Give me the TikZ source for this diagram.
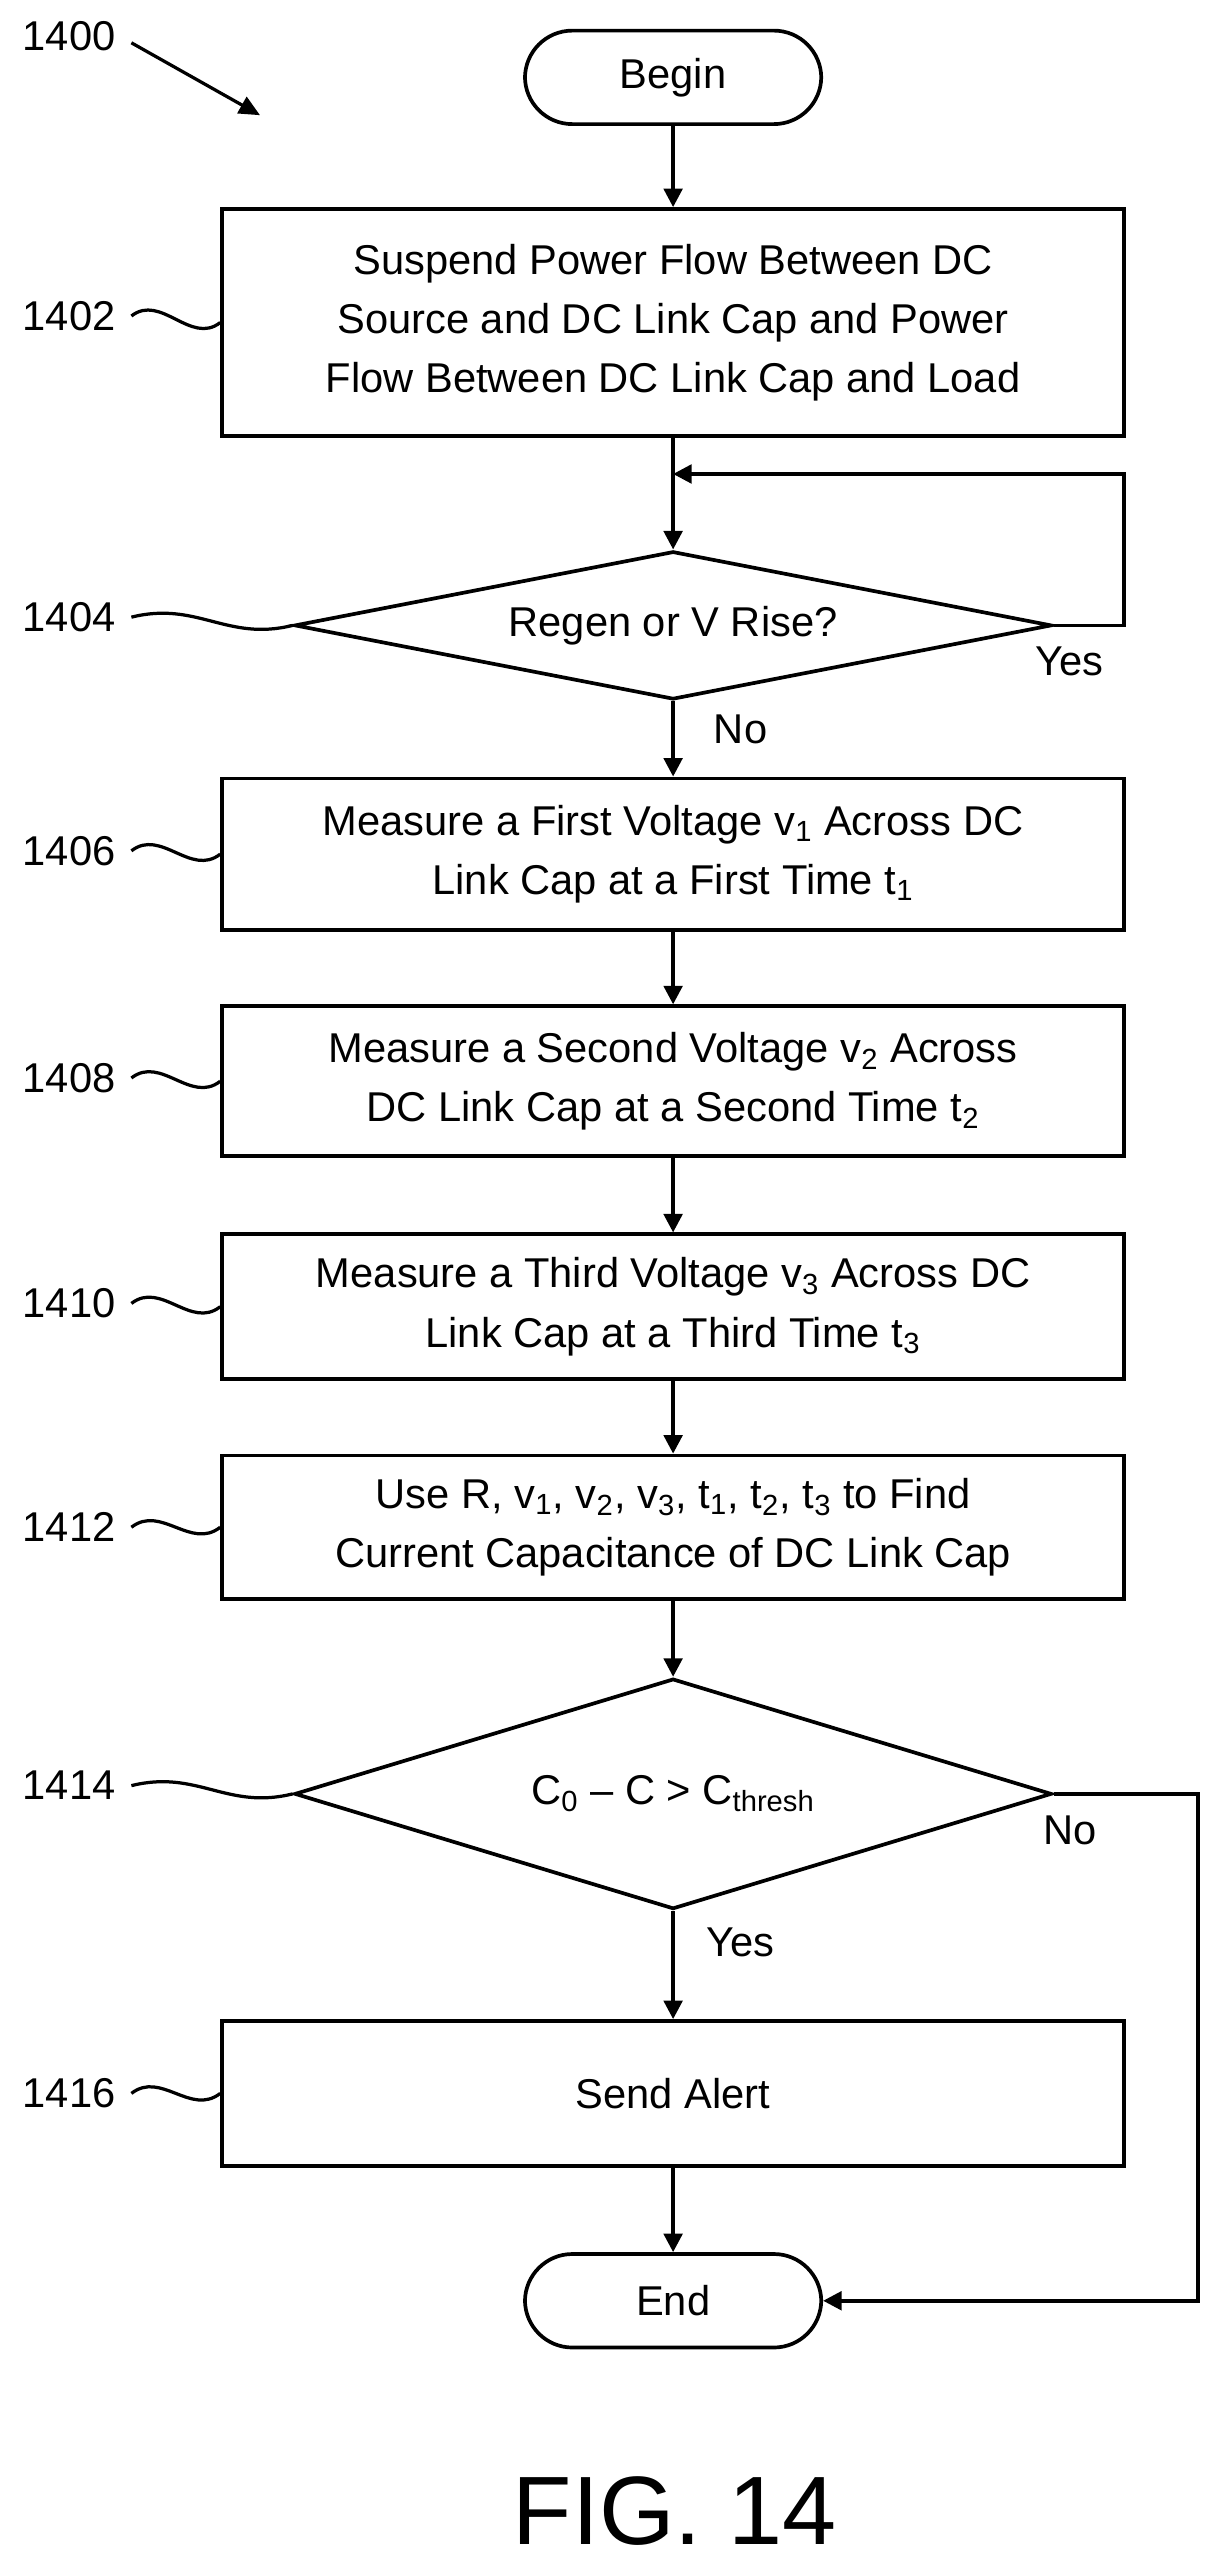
\documentclass[tikz,border=0pt]{standalone}
\usepackage{fontspec}
\setmainfont{Liberation Sans}
\usetikzlibrary{shapes.geometric,arrows.meta}

\tikzset{
  box/.style={draw,line width=1.6pt,minimum width=13.7cm,minimum height=2.25cm,align=center,inner sep=2pt},
  term/.style={draw,line width=1.6pt,rounded corners=0.72cm,minimum width=4.5cm,minimum height=1.42cm},
  dec/.style={draw,line width=1.6pt,diamond,inner sep=0pt,minimum width=11.5cm,minimum height=2.25cm},
  flow/.style={line width=1.6pt,-{Triangle[length=8pt,width=8pt]}},
  lead/.style={line width=1.4pt},
  num/.style={inner sep=1pt}
}

\begin{document}
\begin{tikzpicture}[x=0.025cm,y=-0.025cm,font=\fontsize{18}{25.6}\selectfont]
\useasboundingbox (0,0) rectangle (740,1561);

% nodes
\node[term] (begin) at (409,47) {Begin};
\node[box,minimum height=3.45cm] (s1402) at (409,196) {Suspend Power Flow Between DC\\Source and DC Link Cap and Power\\Flow Between DC Link Cap and Load};
\node[dec,aspect=5.1] (d1404) at (409,380) {Regen or V Rise?};
\node[box,minimum height=2.3cm] (s1406) at (409,519) {Measure a First Voltage v\textsubscript{1} Across DC\\Link Cap at a First Time t\textsubscript{1}};
\node[box,minimum height=2.28cm] (s1408) at (409,657) {Measure a Second Voltage v\textsubscript{2} Across\\DC Link Cap at a Second Time t\textsubscript{2}};
\node[box,minimum height=2.2cm] (s1410) at (409,794) {Measure a Third Voltage v\textsubscript{3} Across DC\\Link Cap at a Third Time t\textsubscript{3}};
\node[box,minimum height=2.18cm] (s1412) at (409,928) {Use R, v\textsubscript{1}, v\textsubscript{2}, v\textsubscript{3}, t\textsubscript{1}, t\textsubscript{2}, t\textsubscript{3} to Find\\Current Capacitance of DC Link Cap};
\node[dec,aspect=3.3,minimum height=3.5cm] (d1414) at (409,1090) {C\textsubscript{0} – C > C\textsubscript{thresh}};
\node[box,minimum height=2.2cm] (s1416) at (409,1272) {Send Alert};
\node[term] (end) at (409,1398) {End};

\coordinate (loop) at (409,288);
\coordinate (cyes) at (683,380);
\coordinate (ctop) at (683,288);
\coordinate (cno) at (728,1090);
\coordinate (cbot) at (728,1398);

% connectors
\draw[flow] (begin) -- (s1402);
\draw[flow] (s1402) -- (d1404);
\draw[flow] (d1404.east) -- (cyes) -- (ctop) -- (loop);
\draw[flow] (d1404) -- (s1406);
\draw[flow] (s1406) -- (s1408);
\draw[flow] (s1408) -- (s1410);
\draw[flow] (s1410) -- (s1412);
\draw[flow] (s1412) -- (d1414);
\draw[flow] (d1414) -- (s1416);
\draw[flow] (s1416) -- (end);
\draw[flow] (d1414.east) -- (cno) -- (cbot) -- (end.east);

\node at (650,402) {Yes};
\node at (450,443) {No};
\node at (650,1112) {No};
\node at (450,1180) {Yes};

% reference numerals
\node[num] (n1400) at (42,22) {1400};
\coordinate (a1400) at (158,70);
\draw[lead,-{Triangle[length=9pt,width=8pt]}] (n1400.east)+(8,4) -- (a1400);
\foreach \n/\y/\t in {1402/192/s1402,1406/517/s1406,1408/655/s1408,1410/792/s1410,1412/928/s1412,1416/1272/s1416}{
  \node[num] (n\n) at (42,\y) {\n};
  \draw[lead] (n\n.east)+(8,0) .. controls +(18,-14) and +(-18,14) .. (\t.west);
}
\foreach \n/\y/\t in {1404/375/d1404,1414/1085/d1414}{
  \node[num] (n\n) at (42,\y) {\n};
  \draw[lead] (n\n.east)+(8,0) .. controls +(40,-10) and +(-40,10) .. (\t.west);
}

\node[font=\fontsize{42}{48}\selectfont] (fig) at (410,1526) {FIG. 14};
\end{tikzpicture}
\end{document}
